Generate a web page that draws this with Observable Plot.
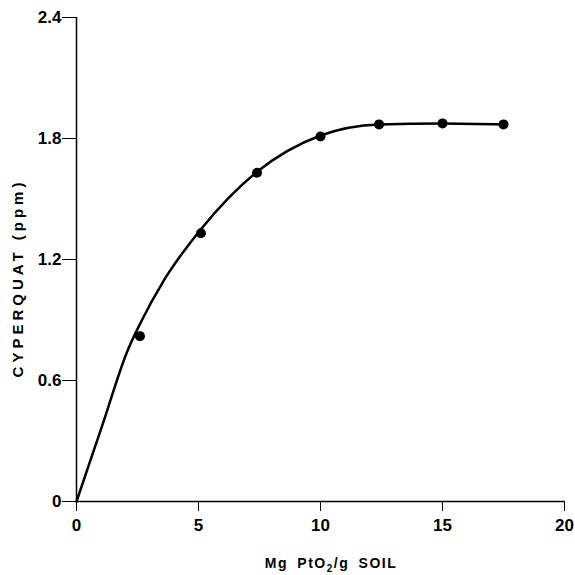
<!DOCTYPE html>
<html>
<head>
<meta charset="utf-8">
<script src="https://cdn.jsdelivr.net/npm/d3@7"></script>
<script src="https://cdn.jsdelivr.net/npm/@observablehq/plot@0.6"></script>
<style>
  html, body { margin: 0; padding: 0; background: #fff; }
  svg { display: block; }
  g[aria-label$="tick label"] text { font-size: 17px; font-weight: bold; }
</style>
</head>
<body>
<div id="chart"></div>
<script>
// Measured points (Mg PtO2 / g soil vs cyperquat ppm)
const pointX = [2.6, 5.1, 7.4, 10, 12.4, 15, 17.5];
const pointY = [0.82, 1.33, 1.63, 1.81, 1.87, 1.875, 1.87];

// Fitted curve
const curveX = [0, 1.05, 2.1, 2.6, 3.6, 5.1, 7.4, 10, 12.4, 15, 17.5];
const curveY = [0, 0.375, 0.75, 0.88, 1.10, 1.35, 1.635, 1.815, 1.87, 1.875, 1.87];

const xTicks = [0, 5, 10, 15, 20];
const yTicks = [0, 0.6, 1.2, 1.8, 2.4];
const yTickLabels = ["0", "0.6", "1.2", "1.8", "2.4"];

const points = pointX.map((x, i) => ({x, y: pointY[i]}));
const curve = curveX.map((x, i) => ({x, y: curveY[i]}));

const plot = Plot.plot({
  width: 575,
  height: 575,
  marginLeft: 76,
  marginRight: 11,
  marginTop: 17,
  marginBottom: 74,
  style: {fontFamily: "'Liberation Sans', Arial, sans-serif", fontSize: "17px", fontWeight: "bold", color: "#000", background: "#fff"},
  x: {domain: [0, 20]},
  y: {domain: [0, 2.4]},
  marks: [
    Plot.axisX({ticks: xTicks, tickSize: 10, tickPadding: 7, label: null, fontSize: 17, fontWeight: "bold"}),
    Plot.axisY({ticks: yTicks, tickFormat: (d) => yTickLabels[yTicks.indexOf(d)], tickSize: 14, tickPadding: 1, label: null, fontSize: 17, fontWeight: "bold"}),
    Plot.ruleX([0], {stroke: "#000", strokeWidth: 1.5}),
    Plot.ruleY([0], {stroke: "#000", strokeWidth: 1.5}),
    Plot.line(curve, {x: "x", y: "y", curve: "monotone-x", stroke: "#000", strokeWidth: 2.5}),
    Plot.dot(points, {x: "x", y: "y", r: 5, fill: "#000", stroke: "none"})
  ]
});

const svg = d3.select(plot);
// x axis title with subscript
const xt = svg.append("text")
  .attr("x", 331).attr("y", 568)
  .attr("text-anchor", "middle")
  .attr("font-family", "'Liberation Sans', Arial, sans-serif")
  .attr("font-size", 14).attr("font-weight", "bold")
  .attr("letter-spacing", "1.5px").attr("word-spacing", "4px")
  .attr("fill", "#000");
xt.append("tspan").text("Mg PtO");
xt.append("tspan").attr("font-size", 10).attr("dy", 4).text("2");
xt.append("tspan").attr("dy", -4).text("/g SOIL");

// y axis title
svg.append("text")
  .attr("transform", "translate(23,278) rotate(-90)")
  .attr("text-anchor", "middle")
  .attr("font-family", "'Liberation Sans', Arial, sans-serif")
  .attr("font-size", 15).attr("font-weight", "bold")
  .attr("letter-spacing", "4px")
  .attr("fill", "#000")
  .text("CYPERQUAT (ppm)");

document.getElementById("chart").appendChild(plot);
</script>
</body>
</html>
